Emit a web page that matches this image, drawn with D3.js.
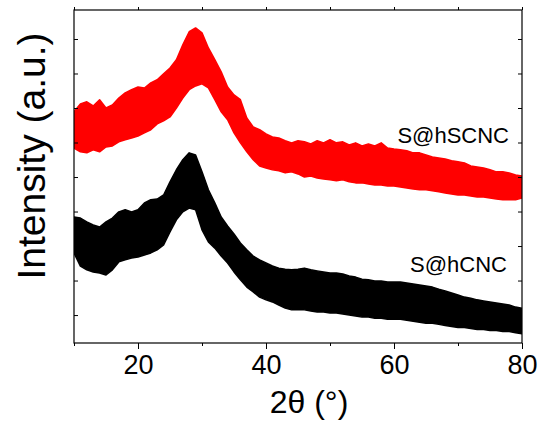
<!DOCTYPE html>
<html>
<head>
<meta charset="utf-8">
<script src="https://cdn.jsdelivr.net/npm/d3@7"></script>
<style>
  body { margin: 0; background: #fff; overflow: hidden; }
  svg { display: block; font-family: Arial, "Liberation Sans", sans-serif; }
</style>
</head>
<body>
<svg width="542" height="423" viewBox="0 0 542 423"></svg>
<script>
// 2theta grid (deg) and the upper / lower edges of each noisy trace
const twoTheta = [10, 11, 12, 13, 14, 15, 16, 17, 18, 19, 20, 21, 22, 23, 24, 25, 26, 27, 28, 29,
  30, 31, 32, 33, 34, 35, 36, 37, 38, 39, 40, 41, 42, 43, 44, 45, 46, 47, 48, 49,
  50, 51, 52, 53, 54, 55, 56, 57, 58, 59, 60, 61, 62, 63, 64, 65, 66, 67, 68, 69,
  70, 71, 72, 73, 74, 75, 76, 77, 78, 79, 80]

const hscncUpper = [689, 712, 718, 706, 724, 700, 709, 729, 744, 753, 761, 758, 773, 782, 799, 816, 840, 883, 921, 932,
  918, 874, 840, 805, 761, 738, 724, 671, 645, 637, 625, 616, 613, 605, 599, 605, 602, 596, 605, 599,
  608, 599, 602, 593, 599, 590, 596, 590, 599, 584, 581, 579, 576, 570, 570, 564, 558, 555, 552, 547,
  544, 541, 532, 529, 526, 521, 515, 515, 512, 506, 503]
const hscncLower = [584, 573, 570, 579, 573, 587, 590, 602, 608, 613, 619, 628, 637, 654, 663, 674, 700, 729, 753, 764,
  770, 758, 724, 689, 666, 628, 599, 573, 550, 532, 526, 521, 518, 512, 515, 509, 500, 503, 497, 494,
  492, 489, 492, 486, 483, 483, 480, 477, 477, 474, 474, 471, 468, 465, 463, 463, 460, 457, 454, 451,
  448, 448, 445, 442, 442, 439, 436, 434, 434, 434, 439]

const hcncUpper = [384, 381, 370, 361, 355, 370, 381, 399, 405, 399, 405, 425, 434, 436, 448, 486, 521, 550, 570, 564,
  515, 463, 425, 384, 358, 335, 309, 289, 271, 260, 251, 242, 236, 233, 231, 233, 236, 231, 228, 225,
  222, 222, 219, 213, 210, 204, 202, 199, 199, 196, 196, 196, 193, 190, 187, 184, 181, 175, 170, 164,
  158, 152, 149, 144, 141, 138, 135, 132, 129, 123, 120]
const hcncLower = [280, 242, 231, 225, 222, 216, 231, 254, 260, 265, 268, 274, 280, 289, 303, 341, 376, 399, 410, 405,
  347, 312, 294, 271, 251, 225, 202, 181, 167, 152, 144, 138, 129, 120, 115, 115, 115, 112, 109, 109,
  106, 106, 103, 100, 97, 94, 94, 91, 91, 88, 88, 88, 85, 82, 79, 76, 76, 73, 70, 67,
  64, 64, 61, 58, 58, 55, 55, 52, 52, 49, 46]

const seriesNames = ['S@hSCNC', 'S@hCNC']
const seriesColors = ['#ff0000', '#000000']

const xMajor = [20, 40, 60, 80]
const xMinor = [10, 30, 50, 70]
const yTicks = [100, 200, 300, 400, 500, 600, 700, 800, 900]

const svg = d3.select('svg')
const width = 542
const height = 423
const margin = {top: 10, right: 20, bottom: 80, left: 74}
const innerWidth = width - margin.left - margin.right
const innerHeight = height - margin.top - margin.bottom

const mainGroup = svg.append('g')
  .attr('transform', `translate(${margin.left}, ${margin.top})`)

const xScale = d3.scaleLinear().domain([10, 80]).range([0, innerWidth])
const yScale = d3.scaleLinear().domain([19, 984]).range([innerHeight, 0])

mainGroup.append('clipPath').attr('id', 'plotClip')
  .append('rect').attr('width', innerWidth).attr('height', innerHeight)

const traces = [
  {name: seriesNames[0], color: seriesColors[0], upper: hscncUpper, lower: hscncLower},
  {name: seriesNames[1], color: seriesColors[1], upper: hcncUpper, lower: hcncLower}
]

const band = d3.area()
  .x((d, i) => xScale(twoTheta[i]))

mainGroup.append('g').attr('clip-path', 'url(#plotClip)')
  .selectAll('path')
  .data(traces)
  .join('path')
  .attr('d', t => band.y0((d, i) => yScale(t.lower[i])).y1((d, i) => yScale(t.upper[i]))(twoTheta))
  .attr('fill', t => t.color)
  .attr('stroke', t => t.color)
  .attr('stroke-width', 1.5)
  .attr('stroke-linejoin', 'round')

// axes: tick marks only, labels just on the bottom majors
function styleAxis(g) {
  g.select('.domain').remove()
  g.selectAll('line').attr('stroke', '#000').attr('stroke-width', 1)
}
function dropLabels(g) {
  g.selectAll('text').remove()
}

mainGroup.append('g')
  .attr('transform', `translate(0, ${innerHeight})`)
  .call(d3.axisBottom(xScale).tickValues(xMajor).tickSize(6).tickFormat(d3.format('d')))
  .call(styleAxis)
  .call(g => g.attr('font-size', 27).attr('font-family', 'Arial, "Liberation Sans", sans-serif'))
  .call(g => g.selectAll('text')
    .attr('y', 12)
    .attr('dy', '0.71em')
    .attr('fill', '#000'))

mainGroup.append('g')
  .attr('transform', `translate(0, ${innerHeight})`)
  .call(d3.axisBottom(xScale).tickValues(xMinor).tickSize(3))
  .call(styleAxis).call(dropLabels)

mainGroup.append('g')
  .call(d3.axisTop(xScale).tickValues(xMajor.concat(xMinor)).tickSize(3))
  .call(styleAxis).call(dropLabels)

mainGroup.append('g')
  .call(d3.axisLeft(yScale).tickValues(yTicks).tickSize(-4))
  .call(styleAxis).call(dropLabels)

mainGroup.append('g')
  .attr('transform', `translate(${innerWidth}, 0)`)
  .call(d3.axisRight(yScale).tickValues(yTicks).tickSize(-4))
  .call(styleAxis).call(dropLabels)

mainGroup.append('rect')
  .attr('width', innerWidth)
  .attr('height', innerHeight)
  .attr('fill', 'none')
  .attr('stroke', '#000')
  .attr('stroke-width', 1.2)

// series labels
const labelPos = [{x: 509, y: 143}, {x: 507, y: 272}]
svg.selectAll('text.series')
  .data(traces)
  .join('text')
  .attr('class', 'series')
  .attr('x', (d, i) => labelPos[i].x)
  .attr('y', (d, i) => labelPos[i].y)
  .attr('text-anchor', 'end')
  .attr('font-size', 22)
  .attr('fill', '#000')
  .text(d => d.name)

// axis titles
svg.append('text')
  .attr('x', 309)
  .attr('y', 413)
  .attr('text-anchor', 'middle')
  .attr('font-size', 32)
  .text('2θ (°)')

svg.append('text')
  .attr('transform', 'translate(45, 156) rotate(-90)')
  .attr('text-anchor', 'middle')
  .attr('font-size', 39)
  .text('Intensity (a.u.)')
</script>
</body>
</html>
